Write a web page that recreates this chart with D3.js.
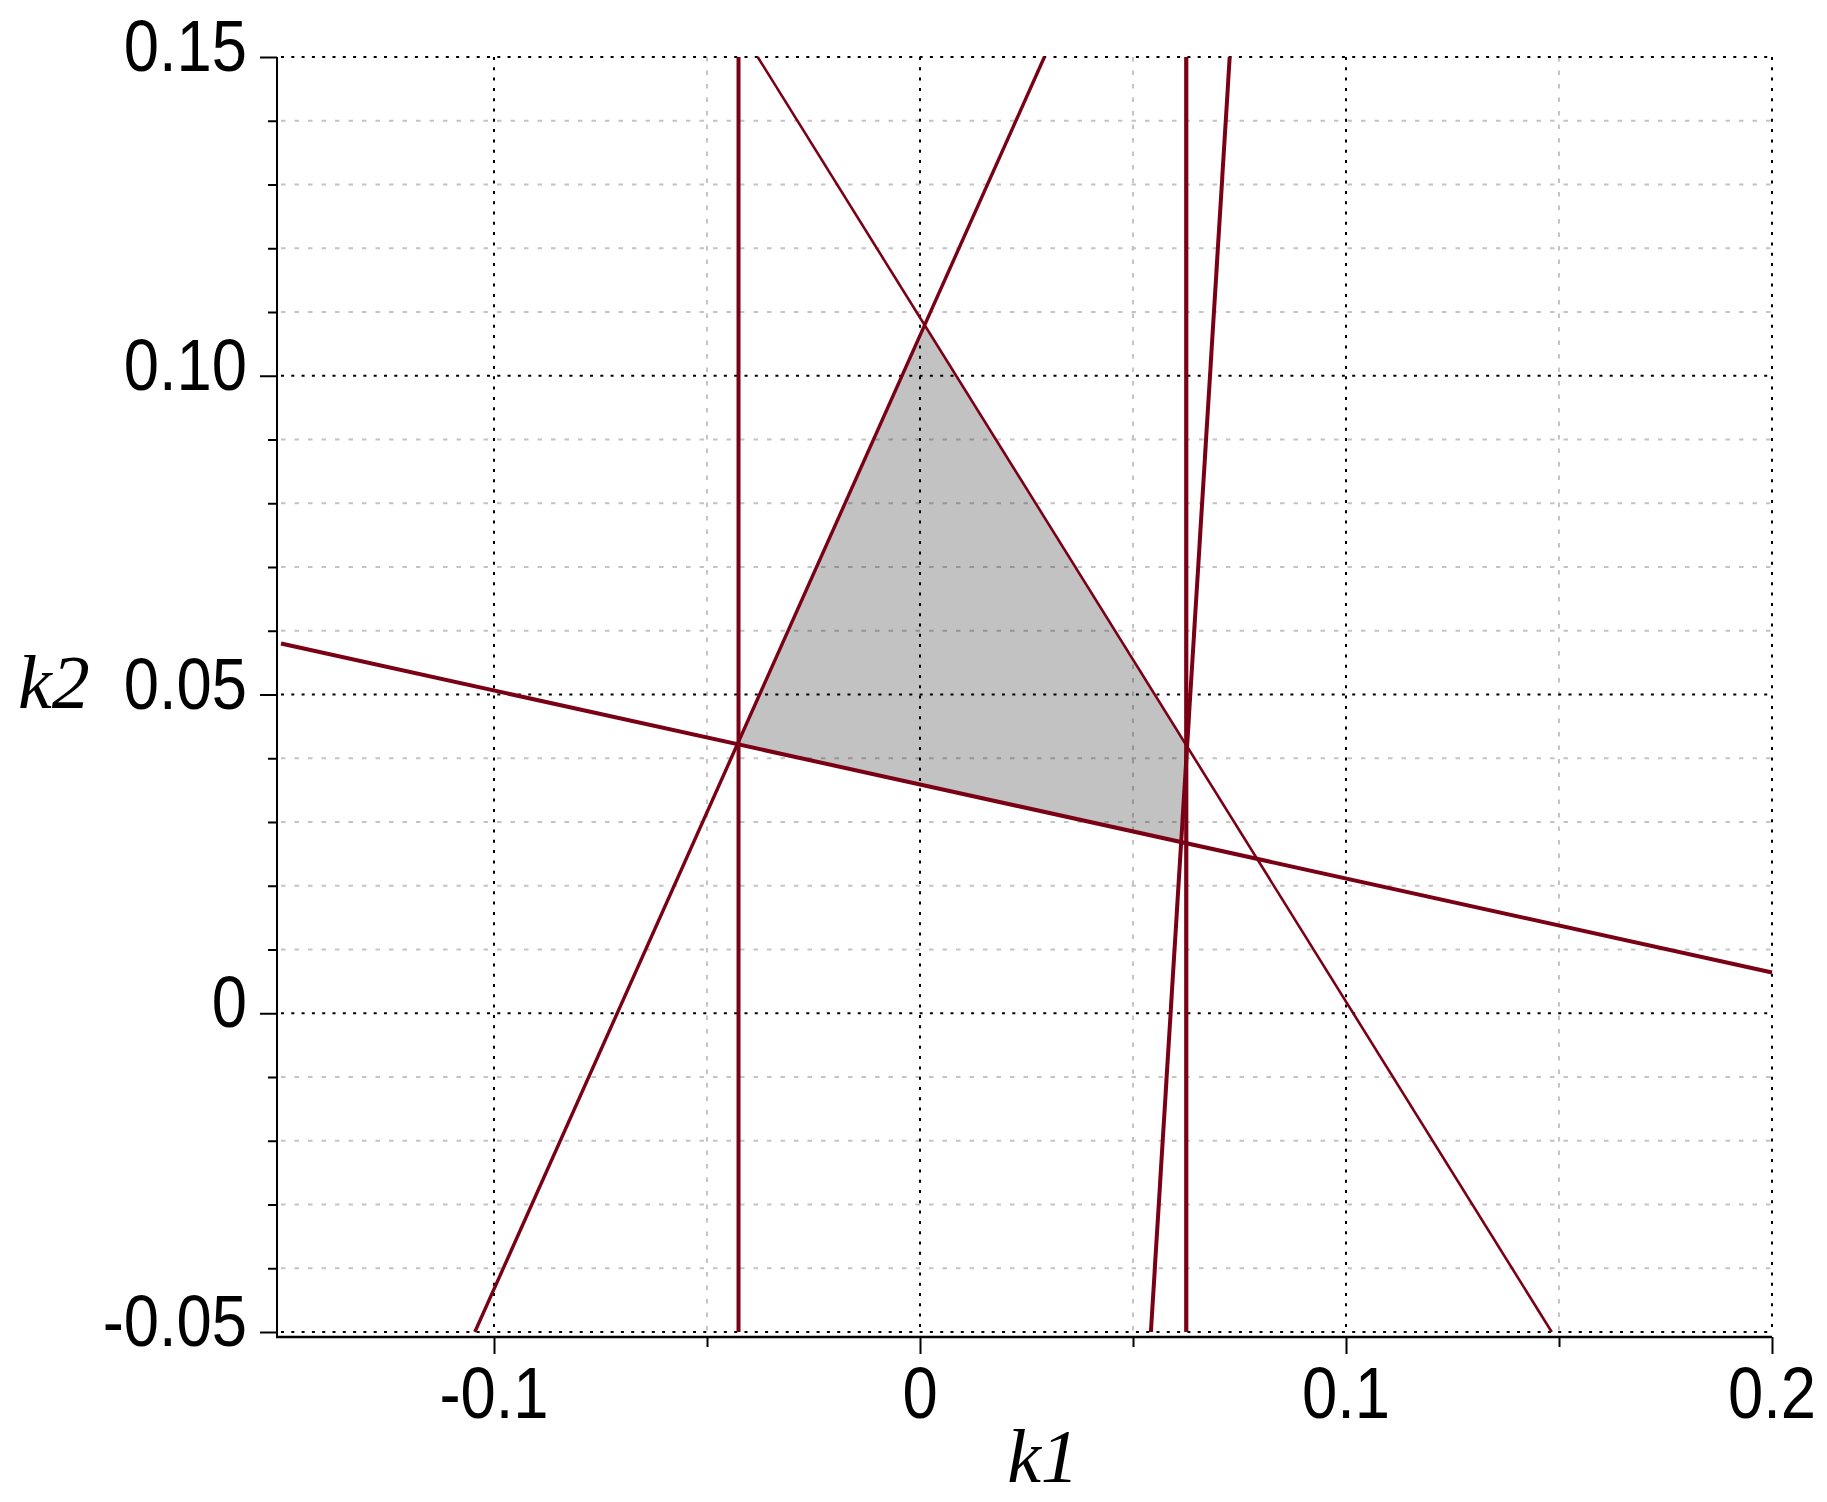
<!DOCTYPE html>
<html>
<head>
<meta charset="utf-8">
<script src="https://cdn.jsdelivr.net/npm/d3@7"></script>
<style>
  html, body { margin: 0; padding: 0; background: #fff; }
  svg { display: block; }
</style>
</head>
<body>
<svg id="chart" width="1827" height="1502"></svg>
<script>
// axis ticks / labels
const k1Major = [-0.1, 0, 0.1, 0.2];
const k1Labels = ["-0.1", "0", "0.1", "0.2"];
const k1Minor = [-0.05, 0.05, 0.15];
const k2Major = [-0.05, 0, 0.05, 0.1, 0.15];
const k2Labels = ["-0.05", "0", "0.05", "0.10", "0.15"];
const k2Minor = [-0.04, -0.03, -0.02, -0.01, 0.01, 0.02, 0.03, 0.04,
                 0.06, 0.07, 0.08, 0.09, 0.11, 0.12, 0.13, 0.14];

// boundary lines, [k1, k2] at each end
const lineStart = [[-0.0426, -0.05], [0.0625, -0.05], [0.0542, -0.05],
                   [-0.1045, -0.05], [0.1483, -0.05], [-0.15, 0.058]];
const lineEnd = [[-0.0426, 0.15], [0.0625, 0.15], [0.0727, 0.15],
                 [0.0292, 0.15], [-0.0381, 0.15], [0.2, 0.0064]];

// feasible region corners
const regionK1 = [-0.0426, 0.0011, 0.0625, 0.0614];
const regionK2 = [0.0424, 0.108, 0.0421, 0.0268];

// styles
const lineColor = "#7a0015";
const lineWidths = [4, 4.2, 4, 3.4, 2.6, 4];

const svg = d3.select("#chart");

const x = d3.scaleLinear().domain([-0.15, 0.2]).range([281, 1772]);
const y = d3.scaleLinear().domain([-0.05, 0.15]).range([1332, 57]);
const axisX = 277, axisY = 1337;

// minor grid
const grid = svg.append("g");
grid.selectAll(".hminor").data(k2Minor).enter().append("line")
  .attr("x1", x(-0.15)).attr("x2", x(0.2))
  .attr("y1", d => y(d)).attr("y2", d => y(d))
  .attr("stroke", "#c4c4c4").attr("stroke-width", 2)
  .attr("stroke-dasharray", "4.5,9");
grid.selectAll(".vminor").data(k1Minor).enter().append("line")
  .attr("x1", d => x(d)).attr("x2", d => x(d))
  .attr("y1", y(0.15)).attr("y2", y(-0.05))
  .attr("stroke", "#c4c4c4").attr("stroke-width", 2)
  .attr("stroke-dasharray", "4.5,9");

// major grid
grid.selectAll(".hmajor").data(k2Major).enter().append("line")
  .attr("x1", x(-0.15)).attr("x2", x(0.2))
  .attr("y1", d => y(d)).attr("y2", d => y(d))
  .attr("stroke", "#000").attr("stroke-width", 2)
  .attr("stroke-dasharray", "3,7.3");
grid.selectAll(".vmajor").data(k1Major).enter().append("line")
  .attr("x1", d => x(d)).attr("x2", d => x(d))
  .attr("y1", y(0.15)).attr("y2", y(-0.05))
  .attr("stroke", "#000").attr("stroke-width", 2)
  .attr("stroke-dasharray", "3,7.3");

// shaded region
svg.append("polygon")
  .attr("points", regionK1.map((k, i) => [x(k), y(regionK2[i])].join(",")).join(" "))
  .attr("fill", "#000").attr("fill-opacity", 0.24);

// boundary lines
svg.append("g").selectAll("line").data(lineStart).enter().append("line")
  .attr("x1", d => x(d[0])).attr("y1", d => y(d[1]))
  .attr("x2", (d, i) => x(lineEnd[i][0])).attr("y2", (d, i) => y(lineEnd[i][1]))
  .attr("stroke", lineColor)
  .attr("stroke-width", (d, i) => lineWidths[i]);

// axes
const yAxis = svg.append("g").attr("transform", `translate(${axisX},0)`);
yAxis.call(d3.axisLeft(y).tickValues(k2Major).tickSize(17).tickFormat(""));
yAxis.append("g").call(d3.axisLeft(y).tickValues(k2Minor).tickSize(9).tickFormat(""));
const xAxis = svg.append("g").attr("transform", `translate(0,${axisY})`);
xAxis.call(d3.axisBottom(x).tickValues(k1Major).tickSize(17).tickFormat(""));
xAxis.append("g").call(d3.axisBottom(x).tickValues(k1Minor).tickSize(10).tickFormat(""));
svg.selectAll(".domain").remove();
svg.selectAll(".tick line").attr("stroke", "#000").attr("stroke-width", 2);

svg.append("line")
  .attr("x1", axisX).attr("x2", axisX).attr("y1", y(0.15)).attr("y2", axisY + 1)
  .attr("stroke", "#000").attr("stroke-width", 2);
svg.append("line")
  .attr("x1", axisX - 1).attr("x2", x(0.2)).attr("y1", axisY).attr("y2", axisY)
  .attr("stroke", "#000").attr("stroke-width", 2.5);

// tick labels
const labelFont = "'Liberation Sans', Arial, sans-serif";
svg.append("g").selectAll("text").data(k2Major).enter().append("text")
  .attr("transform", d => `translate(247,${y(d) + 14}) scale(0.88,1)`)
  .attr("text-anchor", "end")
  .style("font-family", labelFont).style("font-size", "72px")
  .text((d, i) => k2Labels[i]);
svg.append("g").selectAll("text").data(k1Major).enter().append("text")
  .attr("transform", d => `translate(${x(d)},1418) scale(0.88,1)`)
  .attr("text-anchor", "middle")
  .style("font-family", labelFont).style("font-size", "72px")
  .text((d, i) => k1Labels[i]);

// axis titles
const titleFont = "'Liberation Serif', 'Times New Roman', serif";
svg.append("text")
  .attr("x", 18).attr("y", 708)
  .style("font-family", titleFont).style("font-style", "italic").style("font-size", "76px")
  .text("k2");
svg.append("text")
  .attr("x", 1043).attr("y", 1482).attr("text-anchor", "middle")
  .style("font-family", titleFont).style("font-style", "italic").style("font-size", "76px")
  .text("k1");
</script>
</body>
</html>
